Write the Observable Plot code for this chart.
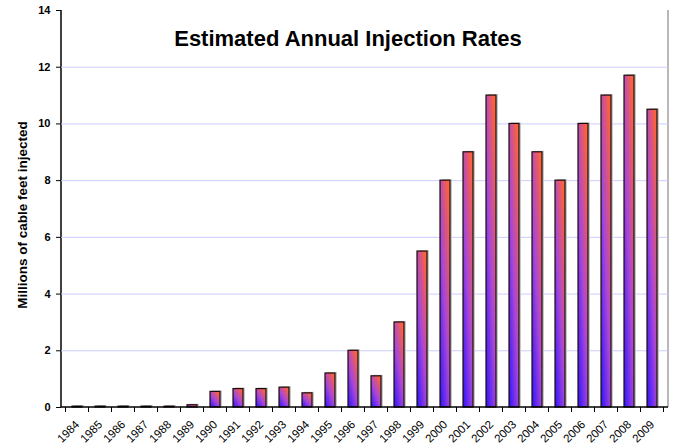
<!DOCTYPE html>
<html>
<head>
<meta charset="utf-8">
<script src="https://cdn.jsdelivr.net/npm/d3@7"></script>
<script src="https://cdn.jsdelivr.net/npm/@observablehq/plot@0.6"></script>
<style>
  html, body { margin: 0; padding: 0; background: #fff; }
  svg { font-family: "Liberation Sans", Arial, sans-serif; }
</style>
</head>
<body>
<div id="chart"></div>
<script>
const years = ["1984","1985","1986","1987","1988","1989","1990","1991","1992","1993","1994","1995","1996",
  "1997","1998","1999","2000","2001","2002","2003","2004","2005","2006","2007","2008","2009"];
const values = [0.03,0.03,0.03,0.03,0.03,0.08,0.55,0.65,0.65,0.7,0.5,1.2,2.0,
  1.1,3.0,5.5,8.0,9.0,11.0,10.0,9.0,8.0,10.0,11.0,11.7,10.5];
const yTicks = [0,2,4,6,8,10,12,14];
const gridLines = [2,4,6,8,10,12];
const title = "Estimated Annual Injection Rates";
const yLabel = "Millions of cable feet injected";

const data = years.map((y, i) => ({year: y, value: values[i]}));

function decor(index, scales, values, dims) {
  const g = d3.create("svg:g");
  const defs = g.append("defs");
  const grad = defs.append("linearGradient")
    .attr("id", "barGrad").attr("gradientUnits", "objectBoundingBox")
    .attr("x1", 0).attr("y1", 1).attr("x2", 0.8).attr("y2", 0);
  grad.append("stop").attr("offset", 0).attr("stop-color", "#2a14ff");
  grad.append("stop").attr("offset", 0.5).attr("stop-color", "#a846d8");
  grad.append("stop").attr("offset", 1).attr("stop-color", "#ff6238");
  const x = scales.x;
  const left = dims.marginLeft, right = dims.width - dims.marginRight;
  const top = dims.marginTop, bottom = dims.height - dims.marginBottom;
  const step = x.step();
  g.append("line").attr("x1", right).attr("x2", right).attr("y1", top).attr("y2", bottom)
    .attr("stroke", "#a0a0a0").attr("stroke-width", 1.5);
  g.append("line").attr("x1", left).attr("x2", left).attr("y1", top).attr("y2", bottom)
    .attr("stroke", "#000").attr("stroke-width", 1.5);
  const x0 = x(years[0]) - (step - x.bandwidth()) / 2;
  for (let i = 0; i <= years.length; i++) {
    const px = x0 + i * step;
    g.append("line").attr("x1", px).attr("x2", px).attr("y1", bottom).attr("y2", bottom + 5)
      .attr("stroke", "#000").attr("stroke-width", 1);
  }
  return g.node();
}

function bottomAxis(index, scales, values, dims) {
  const bottom = dims.height - dims.marginBottom;
  return d3.create("svg:line").attr("x1", dims.marginLeft).attr("x2", dims.width - dims.marginRight)
    .attr("y1", bottom).attr("y2", bottom).attr("stroke", "#000").attr("stroke-width", 1.5).node();
}

const chart = Plot.plot({
  width: 676,
  height: 445,
  marginLeft: 61,
  marginRight: 8,
  marginTop: 10,
  marginBottom: 38,
  style: {fontFamily: "'Liberation Sans', Arial, sans-serif", background: "#fff"},
  x: {domain: years, paddingInner: 0.58, paddingOuter: 0.29},
  y: {domain: [0, 14]},
  marks: [
    decor,
    Plot.ruleY(gridLines, {stroke: "#ccccff", strokeWidth: 1}),
    Plot.barY(data, {x: "year", y: "value", fill: "#c8c8c8", dx: 2, dy: -1}),
    Plot.barY(data, {x: "year", y: "value", fill: "url(#barGrad)", stroke: "#1a0a0a", strokeWidth: 1.2}),
    bottomAxis,
    Plot.axisY({ticks: yTicks, tickSize: 5, tickPadding: 6, fontSize: 11, fontWeight: "bold",
      label: null, tickFormat: d => d}),
    Plot.text([yLabel], {frameAnchor: "left", textAnchor: "middle", lineAnchor: "middle", rotate: -90, dx: -39, dy: 6,
      fontSize: 13.5, fontWeight: "bold", fill: "#000"}),
    Plot.axisX({tickSize: 0, tickRotate: -45, tickPadding: 15, fontSize: 11.5, label: null, dx: 0}),
    Plot.text([title], {frameAnchor: "top", lineAnchor: "middle", dy: 28, dx: -17, fontSize: 22, fontWeight: "bold", fill: "#000"})
  ]
});
document.getElementById("chart").appendChild(chart);
</script>
</body>
</html>
